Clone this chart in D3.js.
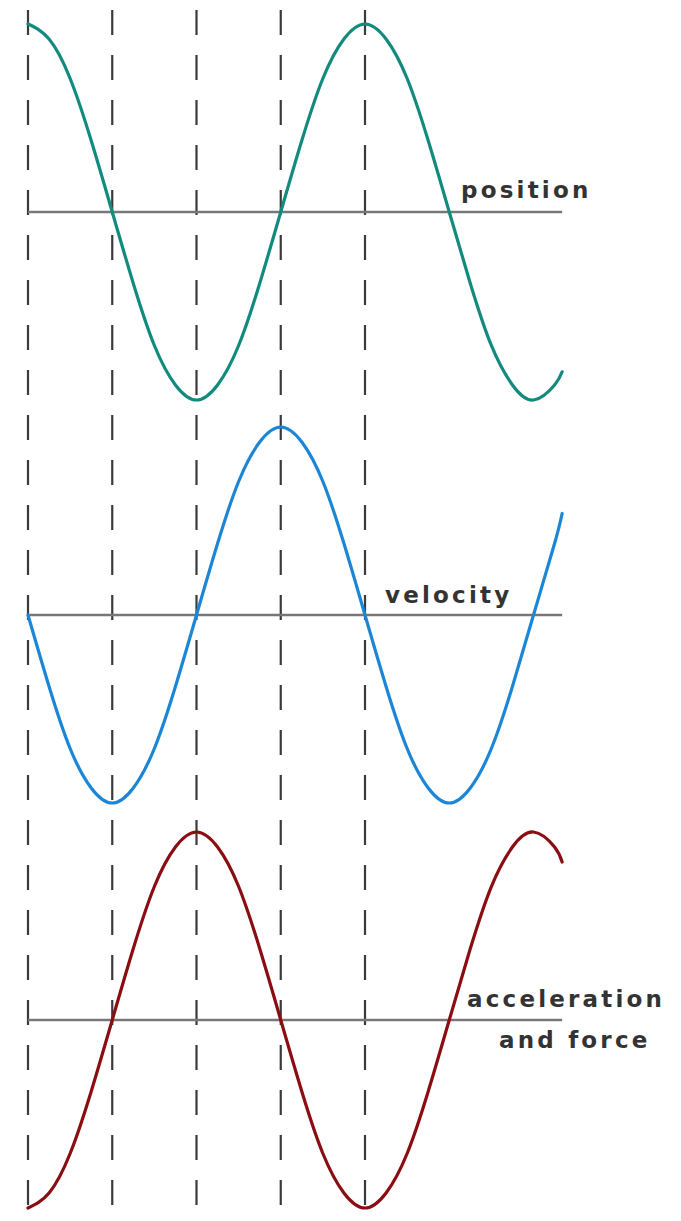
<!DOCTYPE html>
<html>
<head>
<meta charset="utf-8">
<script src="https://cdn.jsdelivr.net/npm/d3@7"></script>
<style>
  body { margin: 0; background: #fff; }
  svg { display: block; }
  .label { font-family: "DejaVu Sans", sans-serif; font-size: 23px; font-weight: bold; fill: #333; letter-spacing: 3.2px; }
</style>
</head>
<body>
<div id="chart"></div>
<script>
// phase in quarter periods, read at every sixteenth of a period
const phase = [0, 0.25, 0.5, 0.75, 1, 1.25, 1.5, 1.75, 2, 2.25, 2.5, 2.75, 3, 3.25, 3.5, 3.75,
    4, 4.25, 4.5, 4.75, 5, 5.25, 5.5, 5.75, 6, 6.25, 6.34];
const position = [1, 0.92, 0.71, 0.38, 0, -0.38, -0.71, -0.92, -1, -0.92, -0.71, -0.38, 0, 0.38, 0.71, 0.92,
    1, 0.92, 0.71, 0.38, 0, -0.38, -0.71, -0.92, -1, -0.92, -0.85];
const velocity = [0, -0.38, -0.71, -0.92, -1, -0.92, -0.71, -0.38, 0, 0.38, 0.71, 0.92, 1, 0.92, 0.71, 0.38,
    0, -0.38, -0.71, -0.92, -1, -0.92, -0.71, -0.38, 0, 0.38, 0.54];
const acceleration = [-1, -0.92, -0.71, -0.38, 0, 0.38, 0.71, 0.92, 1, 0.92, 0.71, 0.38, 0, -0.38, -0.71, -0.92,
    -1, -0.92, -0.71, -0.38, 0, 0.38, 0.71, 0.92, 1, 0.92, 0.84];
const guides = [0, 1, 2, 3, 4];

const panels = [
    { values: position, color: "#138a7e", center: 212, labels: [{ text: "position", x: 461, dy: -14 }] },
    { values: velocity, color: "#1c86d6", center: 615, labels: [{ text: "velocity", x: 385, dy: -12 }] },
    { values: acceleration, color: "#8a0d12", center: 1020, labels: [
        { text: "acceleration", x: 467, dy: -13 },
        { text: "and force", x: 499, dy: 28 }
    ] }
];

const width = 681, height = 1221;

const svg = d3.select("#chart")
    .append("svg")
    .attr("width", width)
    .attr("height", height);

const x = d3.scaleLinear()
    .domain([0, 4])
    .range([28, 365]);

const amp = d3.scaleLinear()
    .domain([-1, 1])
    .range([188, -188]);

// dashed guide lines
svg.append("g")
    .selectAll("line")
    .data(guides)
    .join("line")
    .attr("x1", d => x(d))
    .attr("x2", d => x(d))
    .attr("y1", 10)
    .attr("y2", 1210)
    .attr("stroke", "#3a3a3a")
    .attr("stroke-width", 2.2)
    .attr("stroke-dasharray", "25,20");

panels.forEach(p => {
    const g = svg.append("g")
        .attr("transform", `translate(0, ${p.center})`);

    // zero line
    g.append("line")
        .attr("x1", x(0))
        .attr("x2", x(phase[phase.length - 1]))
        .attr("y1", 0)
        .attr("y2", 0)
        .attr("stroke", "#777")
        .attr("stroke-width", 2.5);

    const pts = phase.map((t, i) => ({ t: t, v: p.values[i] }));

    g.append("path")
        .datum(pts)
        .attr("fill", "none")
        .attr("stroke", p.color)
        .attr("stroke-width", 3.2)
        .attr("stroke-linecap", "round")
        .attr("d", d3.line()
            .x(d => x(d.t))
            .y(d => amp(d.v))
            .curve(d3.curveNatural)
        );

    g.selectAll("text")
        .data(p.labels)
        .join("text")
        .attr("class", "label")
        .attr("x", d => d.x)
        .attr("y", d => d.dy)
        .text(d => d.text);
});
</script>
</body>
</html>
